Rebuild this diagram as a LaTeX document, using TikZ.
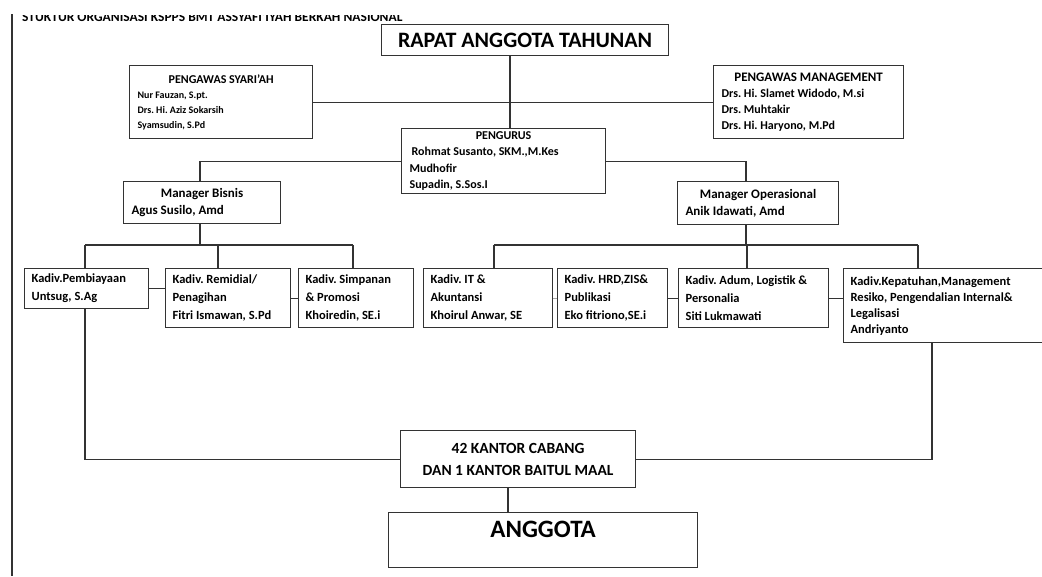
\documentclass[tikz,border=0pt]{standalone}
\usepackage{fontspec}
\setmainfont{Carlito}
\usetikzlibrary{positioning}

\tikzset{
  org/.style={draw=black!80, line width=1.2pt, anchor=north west, align=flush left,
    inner xsep=8pt, inner ysep=3pt, font=\bfseries},
  kadiv/.style={org, inner xsep=7pt, font=\bfseries\fontsize{12.5}{18}\selectfont},
  link/.style={draw=black!80, line width=1.1pt},
}
\newcommand{\headline}[1]{\makebox[\linewidth]{#1}}

\begin{document}
\frenchspacing
\begin{tikzpicture}[x=1pt,y=-1pt]
			\useasboundingbox (0,0) rectangle (1042,576);
			% judul, terpotong di atas
			\begin{scope}
				\clip (0,15) rectangle (1042,30);
				\node[anchor=base west, inner sep=0pt, font=\bfseries\fontsize{13.5}{16}\selectfont] (judul) at (22,21) {STUKTUR ORGANISASI KSPPS BMT ASSYAFI'IYAH BERKAH NASIONAL};
			\end{scope}
			\draw[link] (12,14) -- (12,576);
			% atas
			\node[org, minimum width=287pt, minimum height=31pt, align=flush center, font=\bfseries\fontsize{22}{24}\selectfont] (rat) at (381,24) {RAPAT ANGGOTA TAHUNAN};
			\node[org, minimum width=183pt, minimum height=73pt, text width=167pt, font=\bfseries\fontsize{10}{15}\selectfont] (syariah) at (129,65) {{\fontsize{12}{15}\selectfont\headline{PENGAWAS SYARI'AH}}\\Nur Fauzan, S.pt.\\Drs. Hi. Aziz Sokarsih\\Syamsudin, S.Pd};
			\node[org, minimum width=190pt, minimum height=73pt, text width=174pt, font=\bfseries\fontsize{12}{16}\selectfont] (manag) at (713,65) {{\fontsize{13}{16}\selectfont\headline{PENGAWAS MANAGEMENT}}\\Drs. Hi. Slamet Widodo, M.si\\Drs. Muhtakir\\Drs. Hi. Haryono, M.Pd};
			\node[org, minimum width=204pt, minimum height=60pt, text width=188pt, font=\bfseries\fontsize{12}{16.5}\selectfont] (pengurus) at (401,128) {\headline{PENGURUS}\\\hspace*{2pt}Rohmat Susanto, SKM.,M.Kes\\Mudhofir\\Supadin, S.Sos.I};
			% manager
			\node[org, minimum width=157pt, minimum height=42pt, text width=141pt, font=\bfseries\fontsize{13}{17}\selectfont] (bisnis) at (123,181) {\headline{Manager Bisnis}\\Agus Susilo, Amd};
			\node[org, minimum width=161pt, minimum height=43pt, text width=145pt, font=\bfseries\fontsize{13}{17}\selectfont] (operasional) at (677,181) {\headline{Manager Operasional}\\Anik Idawati, Amd};
			% kadiv
			\node[kadiv, minimum width=124pt, minimum height=40pt, text width=110pt] (pembiayaan) at (24,268) {Kadiv.Pembiayaan\\Untsug, S.Ag};
			\node[kadiv, minimum width=125pt, minimum height=59pt, text width=111pt] (remidial) at (165,268) {Kadiv. Remidial/\\Penagihan\\Fitri Ismawan, S.Pd};
			\node[kadiv, minimum width=115pt, minimum height=59pt, text width=101pt] (simpanan) at (298,268) {Kadiv. Simpanan\\\& Promosi\\Khoiredin, SE.i};
			\node[kadiv, minimum width=129pt, minimum height=59pt, text width=115pt] (it) at (423,268) {Kadiv. IT \&\\Akuntansi\\Khoirul Anwar, SE};
			\node[kadiv, minimum width=110pt, minimum height=59pt, text width=96pt] (hrd) at (557,268) {Kadiv. HRD,ZIS\&\\Publikasi\\Eko fitriono,SE.i};
			\node[kadiv, minimum width=150pt, minimum height=59pt, text width=136pt] (adum) at (678,268) {Kadiv. Adum, Logistik \&\\Personalia\\Siti Lukmawati};
			\node[kadiv, minimum width=210pt, minimum height=74pt, text width=196pt, font=\bfseries\fontsize{12.5}{16}\selectfont] (kepatuhan) at (843,268) {Kadiv.Kepatuhan,Management\\Resiko, Pengendalian Internal\&\\Legalisasi\\Andriyanto};
			% bawah
			\node[org, minimum width=235pt, minimum height=57pt, align=flush center, font=\bfseries\fontsize{15.5}{22}\selectfont] (kantor) at (400,430) {42 KANTOR CABANG\\DAN 1 KANTOR BAITUL MAAL};
			\node[org, minimum width=309pt, minimum height=55pt, align=flush center, text depth=22pt, font=\bfseries\fontsize{25}{28}\selectfont] (anggota) at (388,512) {ANGGOTA};
			% titik cabang
			\coordinate (spine) at (510,0);
			\coordinate (spineB) at (508,0);
			\coordinate (bisx) at (200,0);
			\coordinate (opsx) at (746,0);
			\coordinate (dPemb) at (85,245);
			\coordinate (dRemi) at (218,245);
			\coordinate (dSimp) at (353,245);
			\coordinate (dIt) at (494,245);
			\coordinate (dAdum) at (747,245);
			\coordinate (dKep) at (918,245);
			\coordinate (dKepB) at (932,0);
			% garis
			\draw[link] (rat.south -| spine) -- (pengurus.north -| spine);
			\draw[link] (syariah.east) -- (syariah.east -| manag.west);
			\draw[link] (pengurus.west) -| (bisx |- bisnis.north);
			\draw[link] (pengurus.east) -| (opsx |- operasional.north);
			\draw[link] (bisx |- bisnis.south) -- (bisx |- dPemb);
			\draw[link] (opsx |- operasional.south) -- (opsx |- dIt);
			\draw[link] (dPemb) -- (dSimp);
			\draw[link] (dIt) -- (dKep);
			\draw[link] (dPemb) -- (dPemb |- pembiayaan.north);
			\draw[link] (dRemi) -- (dRemi |- remidial.north);
			\draw[link] (dSimp) -- (dSimp |- simpanan.north);
			\draw[link] (dIt) -- (dIt |- it.north);
			\draw[link] (dAdum) -- (dAdum |- adum.north);
			\draw[link] (dKep) -- (dKep |- kepatuhan.north);
			\draw[link] (pembiayaan.east) -- (pembiayaan.east -| remidial.west);
			\draw[link] (remidial.east) -- (simpanan.west);
			\draw[link, draw=black!35] (it.east) -- (hrd.west);
			\draw[link] (hrd.east) -- (adum.west);
			\draw[link] (adum.east) -- (adum.east -| kepatuhan.west);
			\draw[link] (pembiayaan.south -| dPemb) |- (kantor.west);
			\draw[link] (kepatuhan.south -| dKepB) |- (kantor.east);
			\draw[link] (kantor.south -| spineB) -- (anggota.north -| spineB);
		\end{tikzpicture}
\end{document}
